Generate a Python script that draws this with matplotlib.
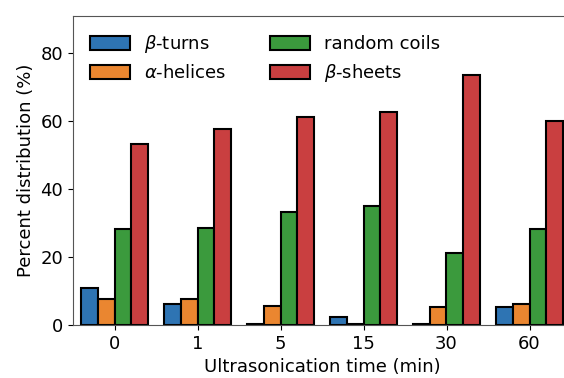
import matplotlib
matplotlib.use("Agg")
import matplotlib.pyplot as plt
import numpy as np

# ultrasonication times and secondary-structure fractions (%)
times = ["0", "1", "5", "15", "30", "60"]
beta_turns = [10.8, 6.2, 0.2, 2.4, 0.2, 5.3]
alpha_helices = [7.7, 7.7, 5.5, 0.3, 5.3, 6.1]
random_coils = [28.2, 28.6, 33.2, 35.0, 21.2, 28.3]
beta_sheets = [53.2, 57.6, 61.2, 62.6, 73.5, 60.1]

labels = [r"$\beta$-turns", r"$\alpha$-helices", "random coils", r"$\beta$-sheets"]
colors = ["#2e74b3", "#ea8630", "#3b9a3d", "#c93f40"]

W, H = 564, 378
fig = plt.figure(figsize=(W / 100, H / 100), dpi=100)
# axes runs past the right edge of the picture (cropped reference)
ax = fig.add_axes([73 / W, 53 / H, 498 / W, 309 / H])

x = np.arange(len(times))
width = 0.2
for i, vals in enumerate([beta_turns, alpha_helices, random_coils, beta_sheets]):
    ax.bar(x + (i - 1.5) * width, vals, width, label=labels[i],
           color=colors[i], edgecolor="black", linewidth=1.5)

ax.set_xlim(-0.5, 5.5)
ax.set_ylim(0, 91)
ax.set_xticks(x)
ax.set_xticklabels(times)
ax.set_yticks([0, 20, 40, 60, 80])
ax.tick_params(labelsize=13)
ax.set_xlabel("Ultrasonication time (min)", fontsize=13, labelpad=4)
ax.set_ylabel("Percent distribution (%)", fontsize=13)
for s in ax.spines.values():
    s.set_color("#555555")

ax.legend(ncol=2, loc="upper left", frameon=False, fontsize=13,
          handlelength=2.2, handleheight=0.8, columnspacing=2.4,
          borderaxespad=0.55, labelspacing=0.5)

plt.savefig("out.png", dpi=100)
